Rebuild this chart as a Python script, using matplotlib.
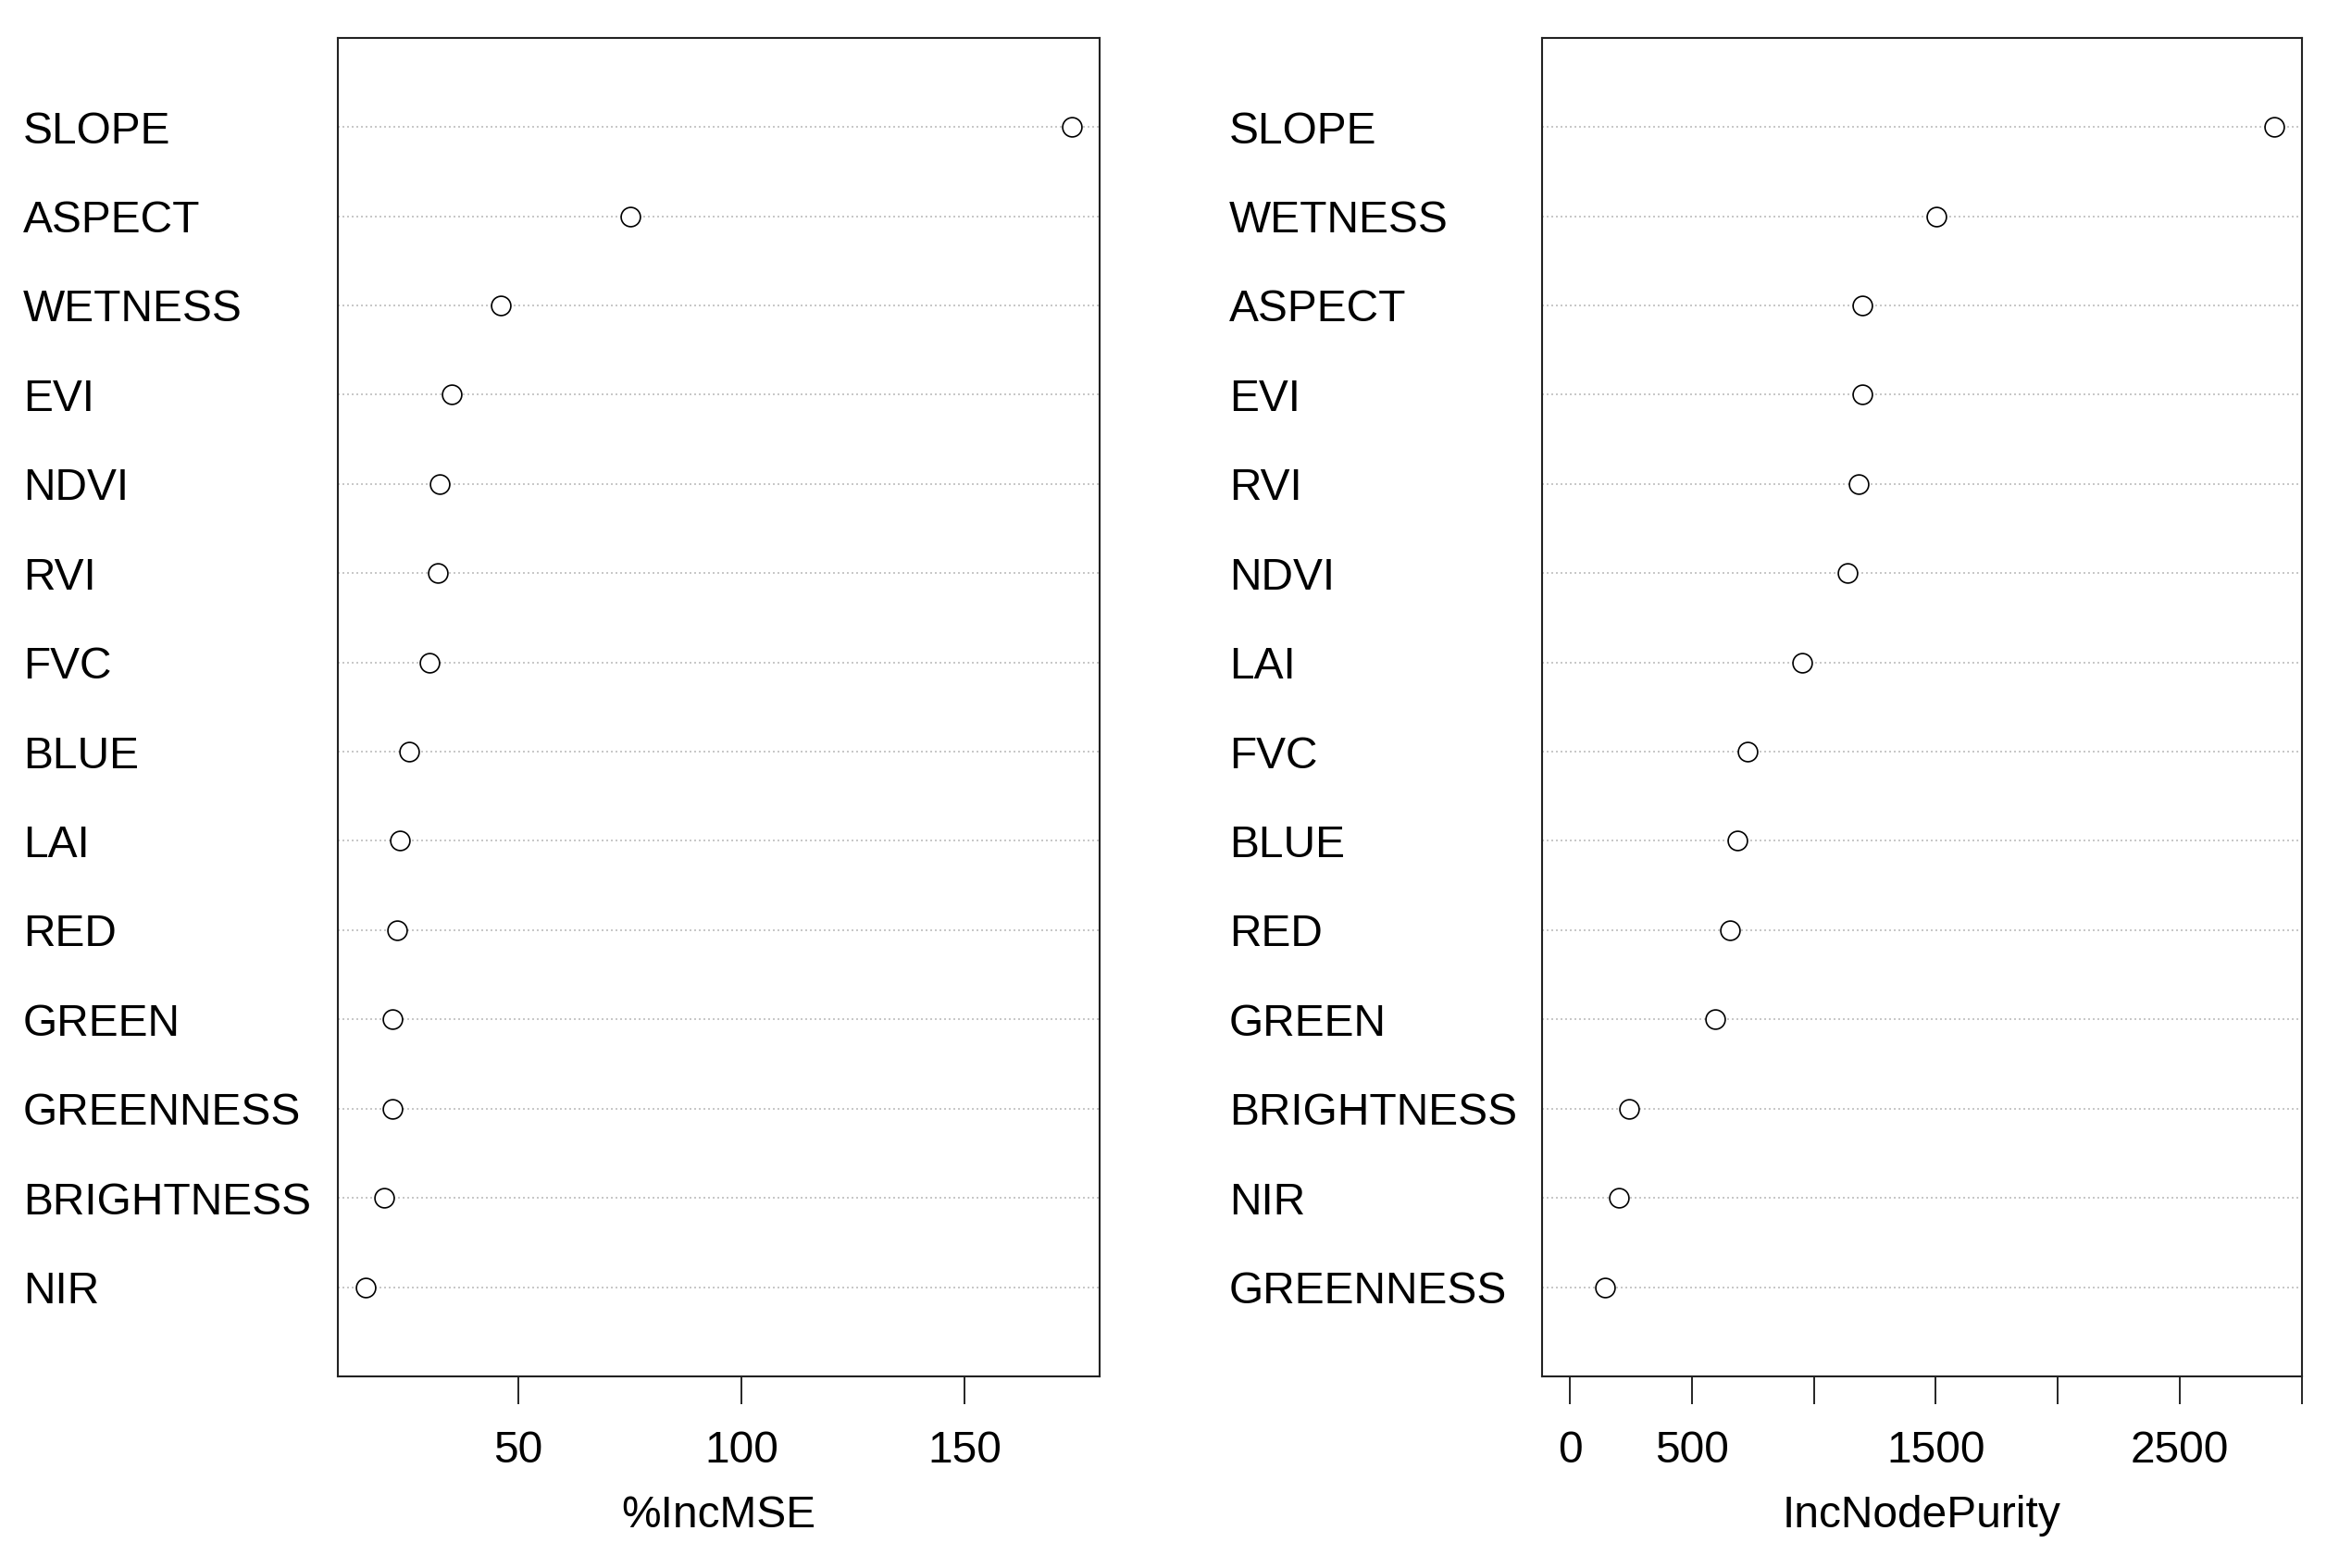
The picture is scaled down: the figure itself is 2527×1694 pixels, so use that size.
import matplotlib
matplotlib.use("Agg")
import matplotlib.pyplot as plt
import matplotlib.transforms as mtransforms
import numpy as np

plt.rcParams['font.family'] = ['Liberation Sans', 'DejaVu Sans']

# variable importance, listed top to bottom as drawn
mse_names = ["SLOPE", "ASPECT", "WETNESS", "EVI", "NDVI", "RVI", "FVC",
             "BLUE", "LAI", "RED", "GREEN", "GREENNESS", "BRIGHTNESS", "NIR"]
mse_vals = [174.0, 75.0, 46.0, 35.0, 32.4, 31.8, 30.1,
            25.4, 23.4, 22.8, 21.8, 21.8, 19.8, 15.8]

purity_names = ["SLOPE", "WETNESS", "ASPECT", "EVI", "RVI", "NDVI", "LAI",
                "FVC", "BLUE", "RED", "GREEN", "BRIGHTNESS", "NIR", "GREENNESS"]
purity_vals = [2887, 1504, 1200, 1199, 1182, 1140, 952,
               727, 686, 655, 594, 244, 201, 146]

mse_ticks = [50, 100, 150]
purity_ticks = [0, 500, 1000, 1500, 2000, 2500, 3000]
purity_ticklabels = ["0", "500", "", "1500", "", "2500", ""]

W, H = 2527, 1694
fig = plt.figure(figsize=(W / 100, H / 100), dpi=100)
fs = 34.5


def dotpanel(rect, names, vals, xmin, ticks, ticklabels, xlabel, label_x):
    ax = fig.add_axes(rect)
    n = len(vals)
    y = np.arange(n, 0, -1)
    for yy in y:
        ax.axhline(yy, color='#BEBEBE', linestyle=(0, (1.2, 1.8)), linewidth=1.2, zorder=1)
    ax.plot(vals, y, linestyle='none', marker='o', markersize=15,
            markerfacecolor='white', markeredgecolor='black', markeredgewidth=1.2, zorder=3)
    lo = xmin if xmin is not None else min(vals)
    hi = max(vals)
    r = hi - lo
    ax.set_xlim(lo - 0.04 * r, hi + 0.04 * r)
    ax.set_ylim(0, n + 1)
    ax.set_yticks([])
    ax.set_xticks(ticks)
    ax.set_xticklabels(ticklabels, fontsize=fs)
    ax.tick_params(axis='x', direction='out', length=21.5, width=1.2, pad=20)
    ax.set_xlabel(xlabel, fontsize=fs, labelpad=18)
    for s in ax.spines.values():
        s.set_linewidth(1.5)
        s.set_color('#222222')
    tr = mtransforms.blended_transform_factory(fig.transFigure, ax.transData)
    for name, yy in zip(names, y):
        ax.text(label_x, yy, name, transform=tr, fontsize=fs,
                ha='left', va='center_baseline', clip_on=False)
    return ax


bottom = 1 - 1487 / H
height = (1487 - 40.7) / H
dotpanel([365 / W, bottom, 823 / W, height], mse_names, mse_vals, None,
         mse_ticks, [str(t) for t in mse_ticks], "%IncMSE", 25 / W)
dotpanel([1665.5 / W, bottom, 822 / W, height], purity_names, purity_vals, 0,
         purity_ticks, purity_ticklabels, "IncNodePurity", 1328 / W)

fig.savefig("out.png", dpi=100, facecolor='white')
